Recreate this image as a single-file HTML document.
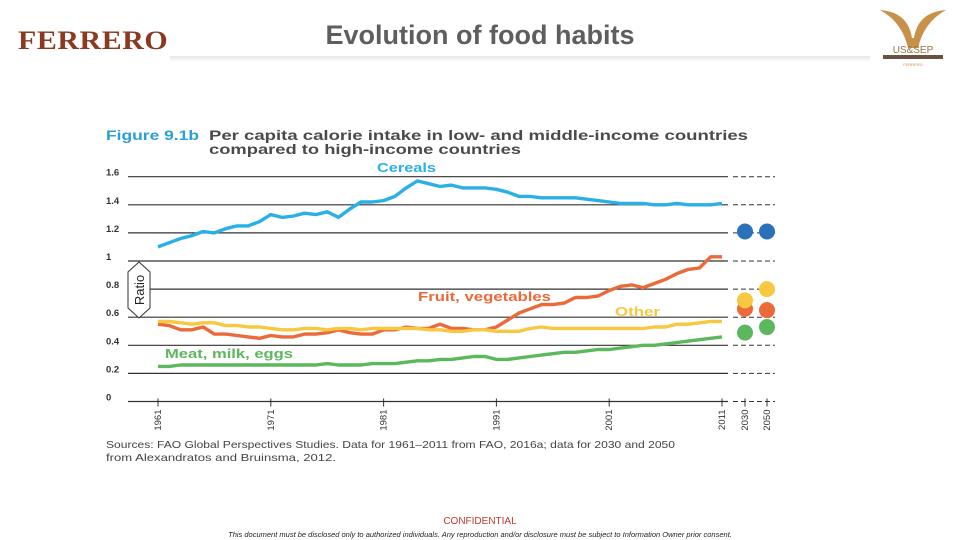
<!DOCTYPE html>
<html><head><meta charset="utf-8">
<style>
body{margin:0;width:960px;height:540px;background:#fff;overflow:hidden;position:relative;font-family:"Liberation Sans",sans-serif}
.abs{position:absolute}
</style></head>
<body>
<div class="abs" style="left:18px;top:26px;font-family:'Liberation Serif',serif;font-weight:bold;font-size:26px;color:#8b3a22;letter-spacing:0.5px;transform:scaleX(1.15);transform-origin:left">FERRERO</div>
<div class="abs" style="left:230px;width:500px;top:20px;text-align:center;font-size:27px;font-weight:bold;color:#5e5e5e">Evolution of food habits</div>
<div class="abs" style="left:170px;top:56px;width:700px;height:6px;background:linear-gradient(to bottom,#e6e6e6,#fff)"></div>
<svg class="abs" style="left:878px;top:8px" width="70" height="60">
<path d="M2 2 Q30 4 34 30 L36 30 Q40 4 68 2 Q46 14 40 40 L30 40 Q24 14 2 2Z" fill="#c8914a"/>
<text x="35" y="45" font-size="10" text-anchor="middle" fill="#9a7040" font-family="Liberation Sans">US&amp;SEP</text>
<rect x="5" y="47" width="60" height="4" fill="#6b5040"/>
<text x="35" y="58" font-size="4" text-anchor="middle" fill="#c8914a">FERRERO</text>
</svg>
<svg class="abs" style="left:0;top:0" width="960" height="540" id="chart">
<text x="106" y="140" font-size="14" font-weight="bold" fill="#2a9fd8" textLength="93" lengthAdjust="spacingAndGlyphs">Figure 9.1b</text>
<text x="209" y="140" font-size="14" font-weight="bold" fill="#4a4a4a" textLength="539" lengthAdjust="spacingAndGlyphs">Per capita calorie intake in low- and middle-income countries</text>
<text x="209" y="154" font-size="14" font-weight="bold" fill="#4a4a4a" textLength="312" lengthAdjust="spacingAndGlyphs">compared to high-income countries</text>
<g id="grid"></g><g id="lines"></g><g id="dots"></g><g id="xt"></g>
<g>
<path d="M139 262 L150 272 L150 308 L139 318 L128 308 L128 272 Z" fill="#fff" stroke="#333" stroke-width="1"/>
<text x="0" y="0" font-size="13" fill="#222" transform="translate(144,290) rotate(-90)" text-anchor="middle">Ratio</text></g>
<text x="377" y="172" font-size="13" font-weight="bold" fill="#2ab0e6" textLength="59" lengthAdjust="spacingAndGlyphs">Cereals</text>
<text x="418" y="301" font-size="13" font-weight="bold" fill="#ea6a3a" textLength="133" lengthAdjust="spacingAndGlyphs">Fruit, vegetables</text>
<text x="615" y="316" font-size="13" font-weight="bold" fill="#f8c840" textLength="45" lengthAdjust="spacingAndGlyphs">Other</text>
<text x="165" y="358" font-size="13" font-weight="bold" fill="#5cb85c" textLength="128" lengthAdjust="spacingAndGlyphs">Meat, milk, eggs</text>
<text x="106" y="448" font-size="10.5" fill="#444" textLength="569" lengthAdjust="spacingAndGlyphs">Sources: FAO Global Perspectives Studies. Data for 1961–2011 from FAO, 2016a; data for 2030 and 2050</text>
<text x="106" y="461" font-size="10.5" fill="#444" textLength="230" lengthAdjust="spacingAndGlyphs">from Alexandratos and Bruinsma, 2012.</text>
</svg>
<div class="abs" style="left:380px;width:200px;top:516px;text-align:center;font-size:10px;color:#c0392b">CONFIDENTIAL</div>
<div class="abs" style="left:0;width:960px;top:530px;text-align:center;font-size:7.5px;font-style:italic;color:#222">This document must be disclosed only to authorized individuals. Any reproduction and/or disclosure must be subject to Information Owner prior consent.</div>
<script>
const yTicks=[0,0.2,0.4,0.6,0.8,1,1.2,1.4,1.6];
const yTickLabels=["0","0.2","0.4","0.6","0.8","1","1.2","1.4","1.6"];
const xTickYears=[1961,1971,1981,1991,2001,2011];
const projYears=[2030,2050];
const cereals=[1.10,1.13,1.16,1.18,1.21,1.20,1.23,1.25,1.25,1.28,1.33,1.31,1.32,1.34,1.33,1.35,1.31,1.37,1.42,1.42,1.43,1.46,1.52,1.57,1.55,1.53,1.54,1.52,1.52,1.52,1.51,1.49,1.46,1.46,1.45,1.45,1.45,1.45,1.44,1.43,1.42,1.41,1.41,1.41,1.40,1.40,1.41,1.40,1.40,1.40,1.41];
const fruit=[0.55,0.54,0.51,0.51,0.53,0.48,0.48,0.47,0.46,0.45,0.47,0.46,0.46,0.48,0.48,0.49,0.51,0.49,0.48,0.48,0.51,0.51,0.53,0.52,0.52,0.55,0.52,0.52,0.51,0.51,0.53,0.58,0.63,0.66,0.69,0.69,0.70,0.74,0.74,0.75,0.79,0.82,0.83,0.81,0.84,0.87,0.91,0.94,0.95,1.03,1.03];
const other=[0.57,0.57,0.56,0.55,0.56,0.56,0.54,0.54,0.53,0.53,0.52,0.51,0.51,0.52,0.52,0.51,0.52,0.52,0.51,0.52,0.52,0.52,0.52,0.52,0.51,0.51,0.50,0.50,0.51,0.51,0.50,0.50,0.50,0.52,0.53,0.52,0.52,0.52,0.52,0.52,0.52,0.52,0.52,0.52,0.53,0.53,0.55,0.55,0.56,0.57,0.57];
const meat=[0.25,0.25,0.26,0.26,0.26,0.26,0.26,0.26,0.26,0.26,0.26,0.26,0.26,0.26,0.26,0.27,0.26,0.26,0.26,0.27,0.27,0.27,0.28,0.29,0.29,0.30,0.30,0.31,0.32,0.32,0.30,0.30,0.31,0.32,0.33,0.34,0.35,0.35,0.36,0.37,0.37,0.38,0.39,0.40,0.40,0.41,0.42,0.43,0.44,0.45,0.46];
const proj2030=[1.21,0.66,0.72,0.49];
const proj2050=[1.21,0.65,0.80,0.53];
const seriesNames=["cereals","fruit-vegetables","other","meat-milk-eggs"];
const seriesColors=["#2ab0e6","#ea6a3a","#f8c840","#5cb85c"];
const dotColors=["#2a72b8","#ea6a3a","#f8c840","#5cb85c"];
const NS="http://www.w3.org/2000/svg";
const X=yr=>yr<=2011?158+(yr-1961)*(722-158)/50:(yr===2030?745:767);
const Y=v=>401.5-v*140.5;
function mk(t,a,p){const e=document.createElementNS(NS,t);for(const k in a)e.setAttribute(k,a[k]);document.getElementById(p).appendChild(e);return e;}
yTicks.forEach((v,i)=>{
 const l=mk('line',{x1:128,x2:728,y1:Y(v),y2:Y(v),stroke:'#333','stroke-width':1.2},'grid');
 
 
 const d=mk('line',{x1:733,x2:775,y1:Y(v),y2:Y(v),stroke:'#333','stroke-width':1,'stroke-dasharray':'5,3'},'grid');
 
 
 const t=mk('text',{x:106,y:Y(v)-1,'font-size':9.5,'font-weight':'bold',fill:'#333'},'grid');t.textContent=yTickLabels[i];
 
 
});
xTickYears.concat(projYears).forEach(yr=>{
 const x=X(yr);
 mk('line',{x1:x,x2:x,y1:Y(0)-3,y2:Y(0)+5,stroke:'#333'},'xt');
 const t=mk('text',{'font-size':9.5,fill:'#333',transform:`translate(${x+3},${Y(0)+8}) rotate(-90)`,'text-anchor':'end'},'xt');
 t.textContent=yr;
 
 
});
[cereals,fruit,other,meat].forEach((s,i)=>{
 const pts=s.map((v,j)=>X(1961+j).toFixed(1)+','+Y(v).toFixed(1)).join(' ');
 const p=mk('polyline',{points:pts,fill:'none',stroke:seriesColors[i],'stroke-width':3.4,'stroke-linejoin':'round'},'lines');
 
 
 [[2030,proj2030[i]],[2050,proj2050[i]]].forEach(([yr,v])=>{
  const c=mk('circle',{cx:X(yr),cy:Y(v),r:8,fill:dotColors[i]},'dots');
  
  
 });
});
</script>
</body></html>
